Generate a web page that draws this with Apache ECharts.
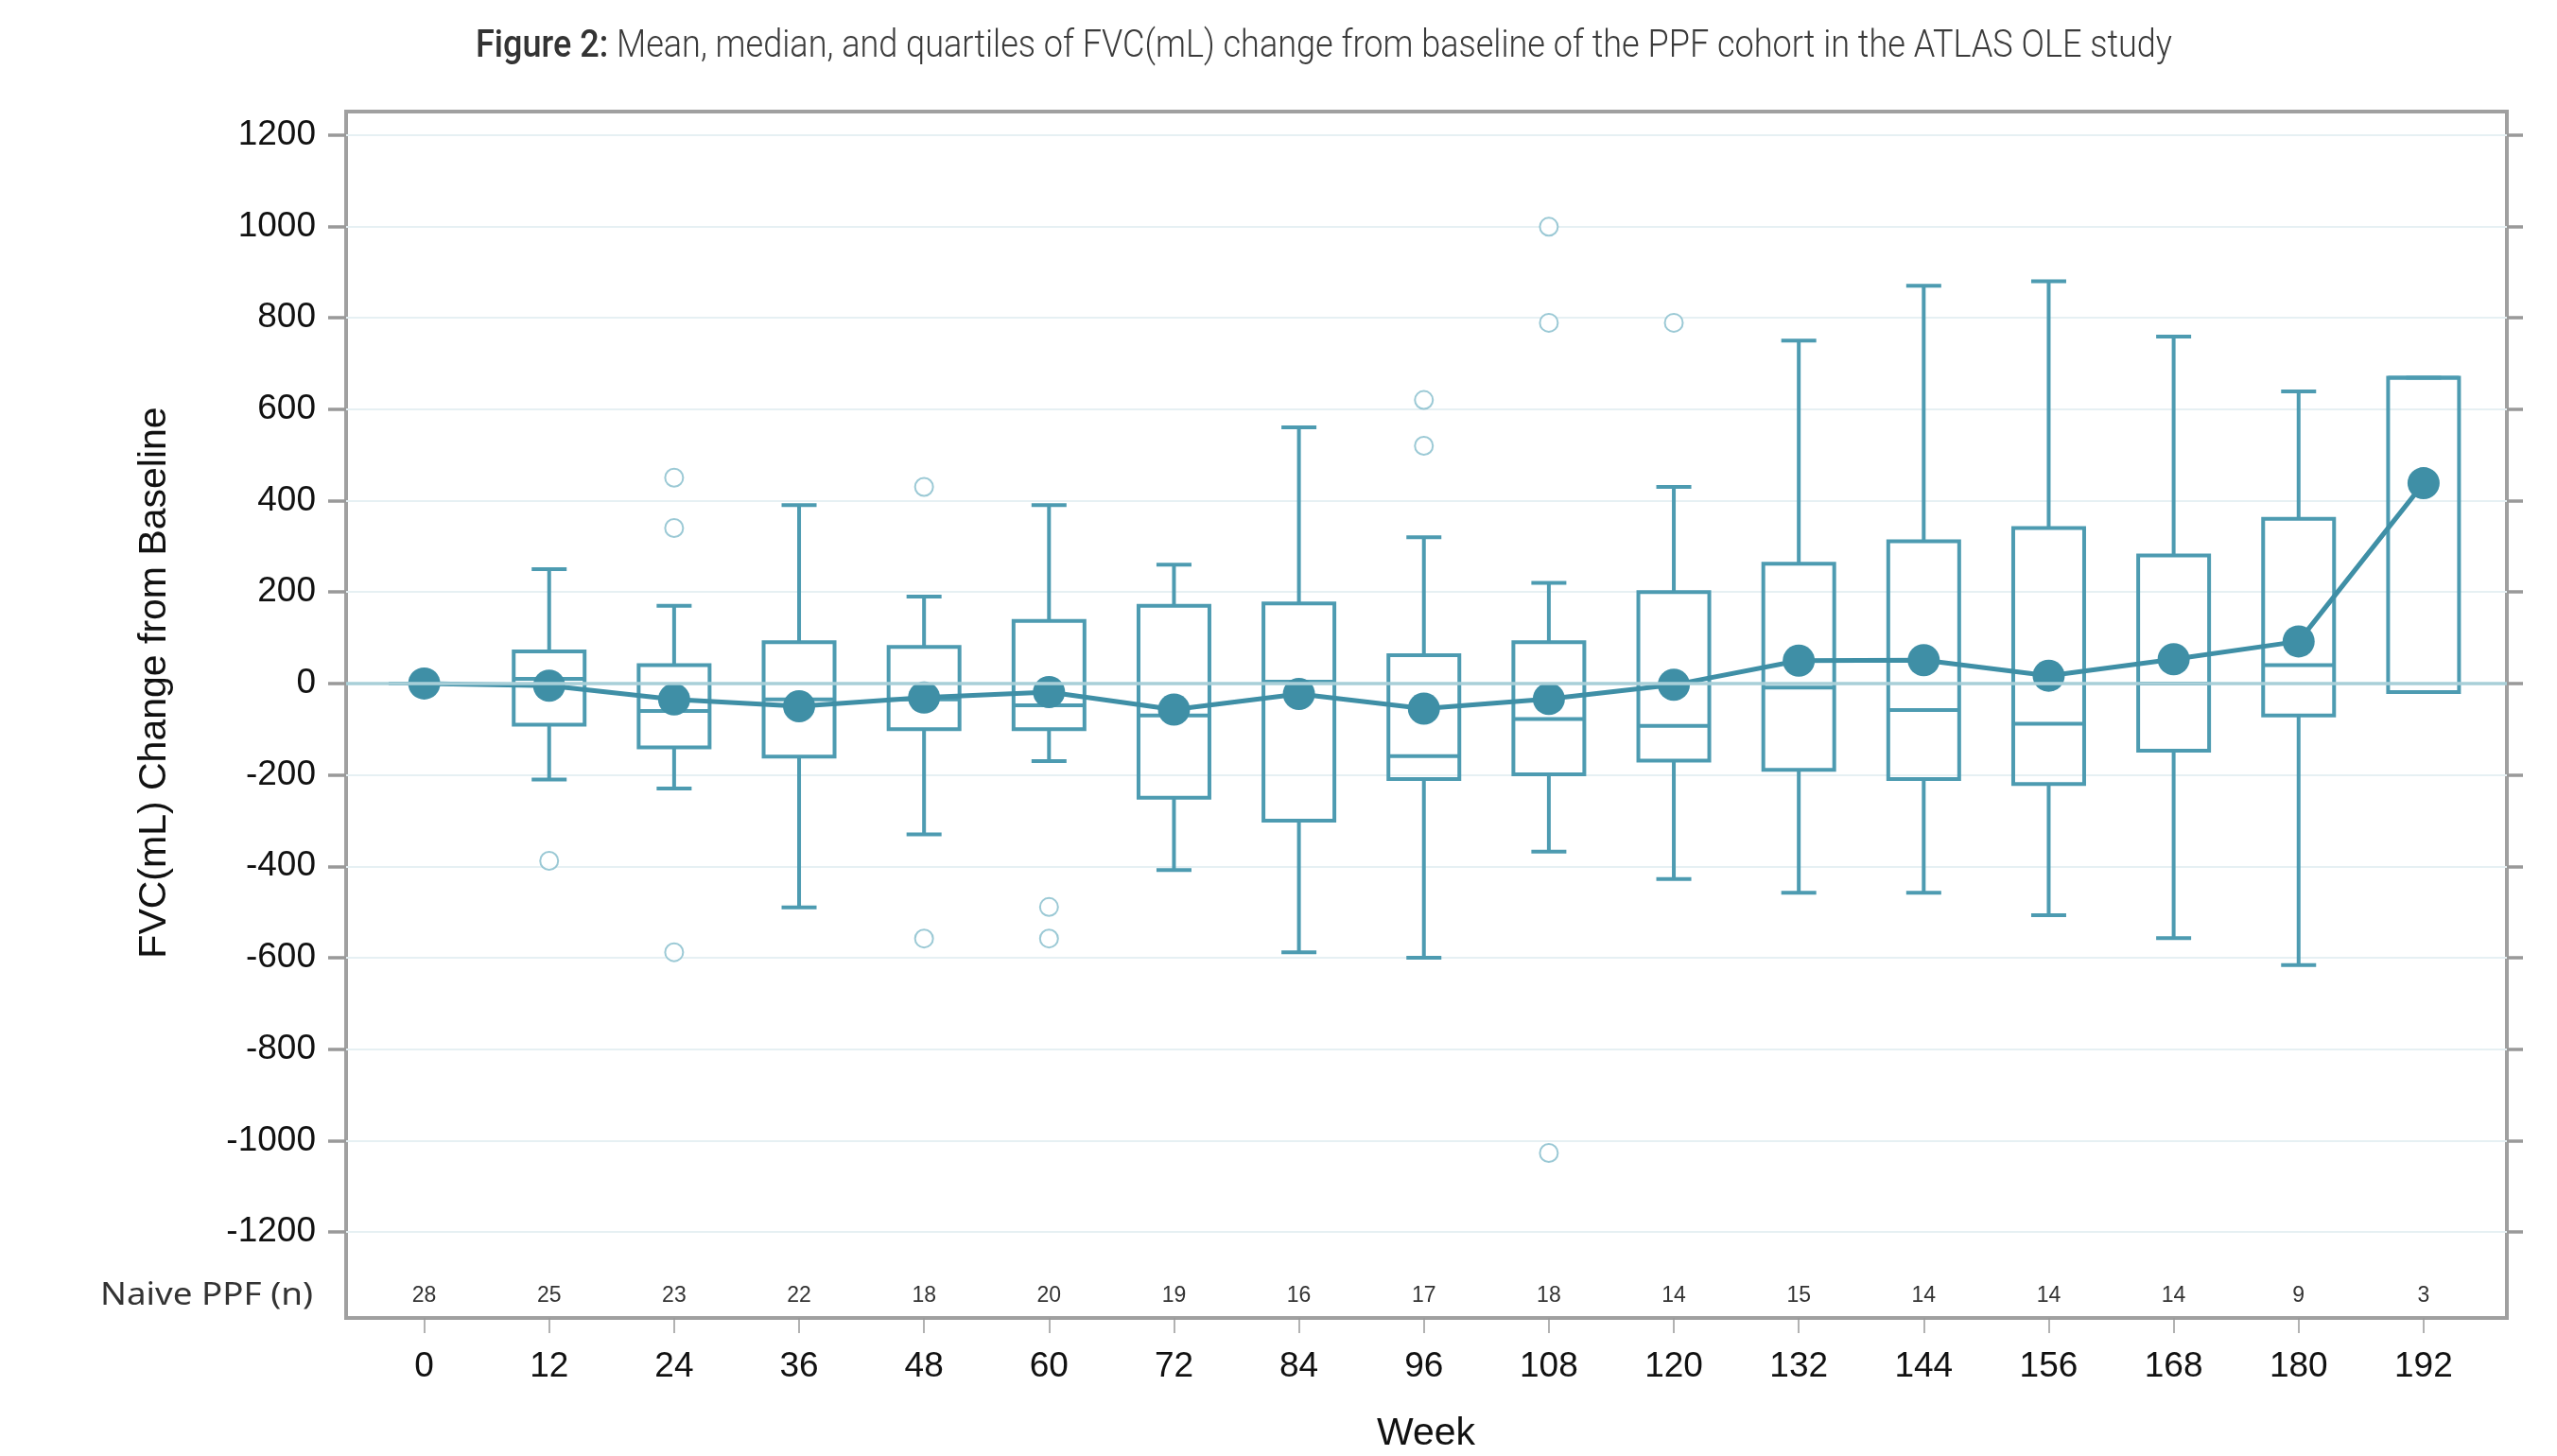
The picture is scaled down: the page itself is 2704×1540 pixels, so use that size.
<!DOCTYPE html>
<html><head><meta charset="utf-8">
<script src="https://cdn.jsdelivr.net/npm/echarts@6/dist/echarts.min.js"></script>
<style>html,body{margin:0;padding:0;background:#fff}#c{width:2704px;height:1540px}</style>
</head><body><div id="c"></div>
<script>
// ---- data ----
const weeks      = [0, 12, 24, 36, 48, 60, 72, 84, 96, 108, 120, 132, 144, 156, 168, 180, 192];
const nCounts    = [28, 25, 23, 22, 18, 20, 19, 16, 17, 18, 14, 15, 14, 14, 14, 9, 3];
const boxMin     = [0, -210, -230, -490, -330, -170, -408, -588, -600, -368, -428, -458, -458, -507, -557, -616, -19];
const boxQ1      = [0, -90, -140, -160, -100, -100, -250, -300, -209, -199, -169, -189, -209, -220, -147, -70, -19];
const boxMedian  = [0, 10, -60, -35, -35, -48, -70, 4, -159, -78, -93, -9, -58, -88, 0, 40, 669];
const boxQ3      = [0, 70, 40, 90, 80, 137, 170, 175, 62, 90, 200, 262, 311, 340, 280, 360, 669];
const boxMax     = [0, 250, 170, 390, 190, 390, 260, 560, 320, 220, 430, 750, 870, 880, 759, 639, 669];
const meanValues = [0, -5, -35, -50, -31, -19, -57, -23, -55, -34, -3, 50, 51, 17, 53, 92, 438];
const outlierWeeks  = [12, 24, 24, 24, 48, 48, 60, 60, 96, 96, 108, 108, 108, 120];
const outlierValues = [-388, 450, 340, -588, 430, -558, -489, -558, 620, 520, 999, 789, -1027, 789];
const yTicks = [-1200, -1000, -800, -600, -400, -200, 0, 200, 400, 600, 800, 1000, 1200];

const titleBold = 'Figure 2:';
const titleRest = ' Mean, median, and quartiles of FVC(mL) change from baseline of the PPF cohort in the ATLAS OLE study';

// ---- styles ----
const BOX_COLOR = '#4d9bb1';
const MEAN_COLOR = '#3f8fa6';
const OUT_COLOR = '#82bccb';
const FRAME = '#a0a0a0';
const BOX_W = 75, CAP_W = 37;

function measure(text, font) {
  const c = document.createElement('canvas').getContext('2d');
  c.font = font; return c.measureText(text).width;
}
const TFS = 40;
const tW = measure(titleBold, '500 ' + TFS + 'px Roboto') + measure(titleRest, '300 ' + TFS + 'px Roboto');
const titleScale = 1794 / tW;
const nW = measure('Naive PPF (n)', '32px "Noto Sans"');
const nScale = 225 / nW;

const chart = echarts.init(document.getElementById('c'), null, {renderer: 'canvas'});

const boxData = weeks.map((w, i) => [w, boxMin[i], boxQ1[i], boxMedian[i], boxQ3[i], boxMax[i]]);
const meanData = weeks.map((w, i) => [w, meanValues[i]]);
const outData = outlierWeeks.map((w, i) => [w, outlierValues[i]]);

function st() { return {stroke: BOX_COLOR, lineWidth: 4, fill: 'none'}; }

const option = {
  animation: false,
  backgroundColor: '#fff',
  grid: {left: 366, right: 53, top: 118, bottom: 146, show: true, borderColor: FRAME, borderWidth: 4, backgroundColor: 'transparent'},
  xAxis: [{
    type: 'value', min: -7.5, max: 200,
    axisLine: {show: false, onZero: false},
    axisTick: {show: true, length: 16, lineStyle: {color: '#999', width: 1.5}, customValues: weeks},
    axisLabel: {customValues: weeks, fontSize: 37, color: '#111', fontFamily: 'Liberation Sans', margin: 33,
      formatter: v => String(v)},
    splitLine: {show: false}
  }, {
    type: 'value', min: -7.5, max: 200, position: 'bottom', offset: -40,
    axisLine: {show: false, onZero: false},
    axisTick: {show: false, customValues: weeks},
    axisLabel: {customValues: weeks, fontSize: 23, color: '#333', fontFamily: 'Liberation Sans', margin: 5,
      formatter: v => { const i = weeks.indexOf(v); return i >= 0 ? String(nCounts[i]) : ''; }},
    splitLine: {show: false}
  }],
  yAxis: [{
    type: 'value', min: -1388, max: 1251,
    axisLine: {show: false, onZero: false},
    axisTick: {show: true, length: 19, lineStyle: {color: '#999', width: 3.5}, customValues: yTicks},
    axisLabel: {customValues: yTicks, fontSize: 37, color: '#111', fontFamily: 'Liberation Sans', margin: 32,
      formatter: v => String(v)},
    splitLine: {show: true, lineStyle: {color: '#e6f0f3', width: 2}}
  }, {
    type: 'value', min: -1388, max: 1251, position: 'right',
    axisLine: {show: false, onZero: false},
    axisTick: {show: true, length: 17, lineStyle: {color: '#999', width: 3.5}, customValues: yTicks},
    axisLabel: {show: false, customValues: yTicks},
    splitLine: {show: false}
  }],
  graphic: [
    {type: 'text', x: 1400, y: 50, scaleX: titleScale, style: {
      text: '{b|' + titleBold + '}' + titleRest,
      rich: {b: {fontWeight: 500, fontSize: TFS, fontFamily: 'Roboto', fill: '#333'}},
      fontSize: TFS, fontWeight: 300, fontFamily: 'Roboto', fill: '#3a3a3a', align: 'center', verticalAlign: 'middle'}},
    {type: 'text', x: 164, y: 722, rotation: Math.PI / 2, style: {
      text: 'FVC(mL) Change from Baseline', fontSize: 41, fontFamily: 'Liberation Sans', fill: '#111',
      align: 'center', verticalAlign: 'middle'}},
    {type: 'text', x: 331, y: 1371, scaleX: nScale, style: {
      text: 'Naive PPF (n)', fontSize: 32, fontFamily: 'Noto Sans', fill: '#333', align: 'right', verticalAlign: 'middle'}},
    {type: 'text', x: 1508, y: 1517, style: {
      text: 'Week', fontSize: 41, fontFamily: 'Liberation Sans', fill: '#111', align: 'center', verticalAlign: 'middle'}}
  ],
  series: [{
    type: 'custom', name: 'quartiles', xAxisIndex: 0, yAxisIndex: 0, z: 2,
    data: boxData, encode: {x: 0, y: [1, 2, 3, 4, 5]},
    renderItem: function (params, api) {
      const x = api.value(0);
      const pMin = api.coord([x, api.value(1)]);
      const pQ1 = api.coord([x, api.value(2)]);
      const pMed = api.coord([x, api.value(3)]);
      const pQ3 = api.coord([x, api.value(4)]);
      const pMax = api.coord([x, api.value(5)]);
      const cx = pMed[0];
      return {type: 'group', children: [
        {type: 'line', shape: {x1: cx, y1: pQ3[1], x2: cx, y2: pMax[1]}, style: st()},
        {type: 'line', shape: {x1: cx, y1: pQ1[1], x2: cx, y2: pMin[1]}, style: st()},
        {type: 'line', shape: {x1: cx - CAP_W / 2, y1: pMax[1], x2: cx + CAP_W / 2, y2: pMax[1]}, style: st()},
        {type: 'line', shape: {x1: cx - CAP_W / 2, y1: pMin[1], x2: cx + CAP_W / 2, y2: pMin[1]}, style: st()},
        {type: 'rect', shape: {x: cx - BOX_W / 2, y: pQ3[1], width: BOX_W, height: pQ1[1] - pQ3[1]}, style: st()},
        {type: 'line', shape: {x1: cx - BOX_W / 2, y1: pMed[1], x2: cx + BOX_W / 2, y2: pMed[1]}, style: st()}
      ]};
    },
    markLine: {silent: true, symbol: 'none', label: {show: false},
      lineStyle: {color: '#a8cfd8', width: 3.5, type: 'solid'}, data: [{yAxis: 0}]}
  }, {
    type: 'scatter', name: 'outliers', xAxisIndex: 0, yAxisIndex: 0, z: 3,
    data: outData, symbol: 'emptyCircle', symbolSize: 19,
    itemStyle: {color: OUT_COLOR, borderColor: OUT_COLOR, borderWidth: 2.5}
  }, {
    type: 'line', name: 'mean', xAxisIndex: 0, yAxisIndex: 0, z: 4,
    data: meanData, symbol: 'circle', symbolSize: 34,
    lineStyle: {color: MEAN_COLOR, width: 5},
    itemStyle: {color: MEAN_COLOR}
  }]
};
chart.setOption(option);
</script></body></html>
